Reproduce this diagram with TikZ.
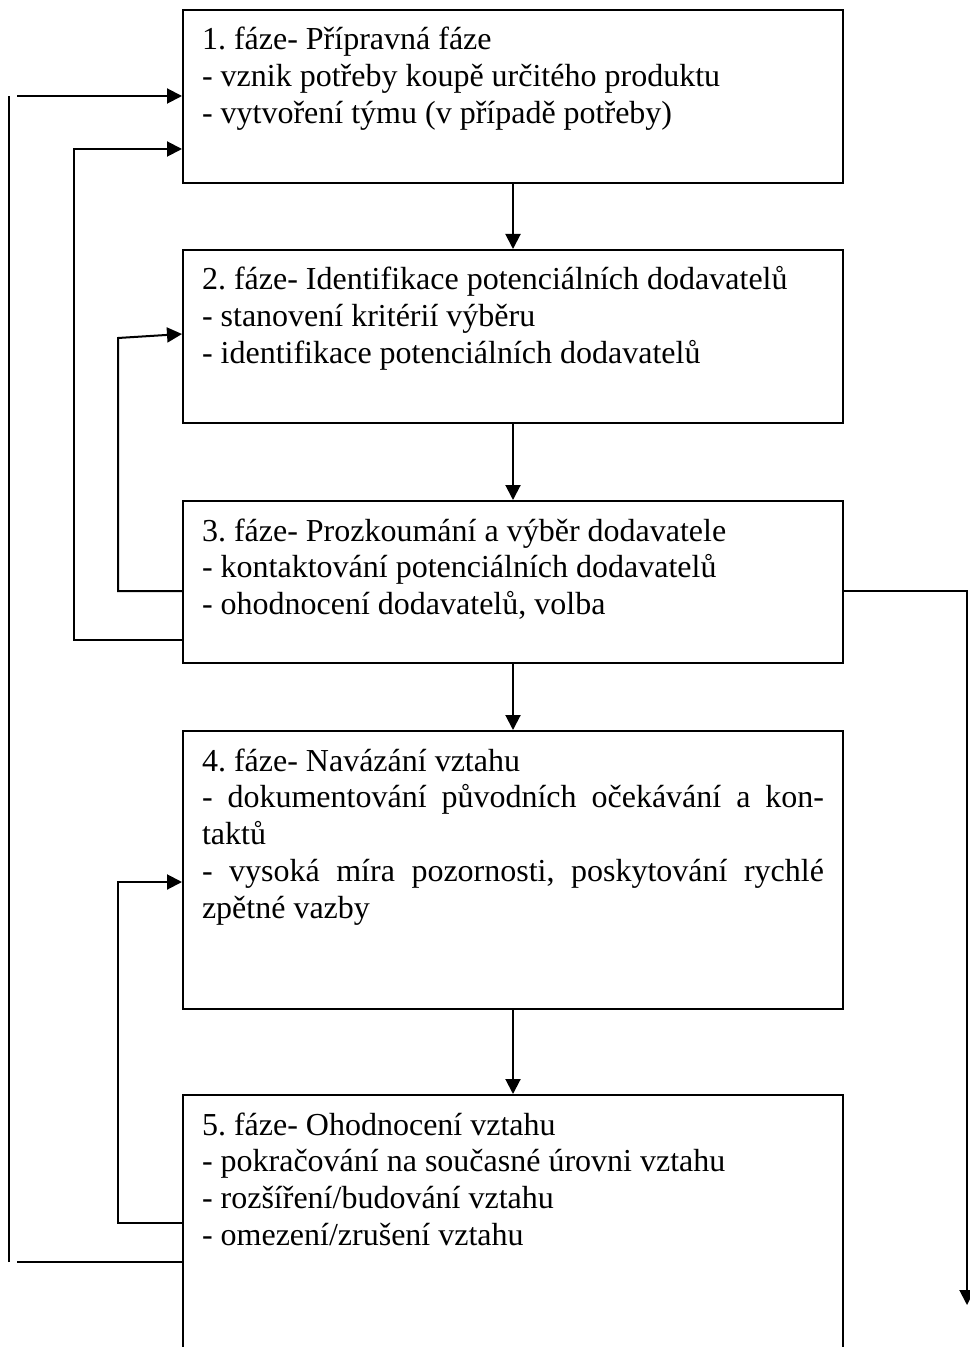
\documentclass[tikz,border=0pt]{standalone}
\usepackage{fontspec}
\setmainfont{Liberation Serif}
\usetikzlibrary{arrows.meta}

\tikzset{
  phase/.style={draw, line width=1pt, anchor=north west, inner xsep=9.5pt, inner ysep=0pt},
  link/.style={line width=1pt},
  flow/.style={line width=1pt, -{Triangle[length=7.5pt,width=7.5pt]}}
}
\newcommand{\phasetext}[2]{\parbox[t][#1][t]{311pt}{\fontsize{16pt}{18.4pt}\selectfont
  \frenchspacing\hyphenpenalty=10000 \rule{0pt}{20pt}#2}}

\begin{document}
\begin{tikzpicture}[x=0.5pt,y=-0.5pt]
  \useasboundingbox (0,0) rectangle (969,1347);
  % the five phases
  \node[phase] (f1) at (182,9) {\phasetext{86.5pt}{1. fáze- Přípravná fáze\\
    - vznik potřeby koupě určitého produktu\\
    - vytvoření týmu (v případě potřeby)}};
  \node[phase] (f2) at (182,249) {\phasetext{86.5pt}{2. fáze- Identifikace potenciálních dodavatelů\\
    - stanovení kritérií výběru\\
    - identifikace potenciálních dodavatelů}};
  \node[phase] (f3) at (182,500) {\phasetext{81pt}{3. fáze- Prozkoumání a výběr dodavatele\\
    - kontaktování potenciálních dodavatelů\\
    - ohodnocení dodavatelů, volba}};
  \node[phase] (f4) at (182,730) {\phasetext{139pt}{4. fáze- Navázání vztahu\\
    - dokumentování původních očekávání a kon-\linebreak taktů\\
    - vysoká míra pozornosti, poskytování rychlé\linebreak zpětné vazby}};
  \node[phase] (f5) at (182,1094) {\phasetext{140pt}{5. fáze- Ohodnocení vztahu\\
    - pokračování na současné úrovni vztahu\\
    - rozšíření/budování vztahu\\
    - omezení/zrušení vztahu}};
  \coordinate (out) at (967,1305);
  \foreach \a/\b in {f1/f2,f2/f3,f3/f4,f4/f5}
    \draw[flow] (\a.south) -- (\b.north);
  % feedback lines on the left
  \draw[link] (f5.west |- 0,1262) -- (17,1262);
  \draw[link] (9,1262) -- (9,96);
  \draw[flow] (17,96) -- (f1.west |- 0,96);
  \draw[flow] (f3.west |- 0,640) -| (74,149) -- (f1.west |- 0,149);
  \draw[flow] (f3.west |- 0,591) -| (118,338) -- (f2.west |- 0,334);
  \draw[flow] (f5.west |- 0,1223) -| (118,882) -- (f4.west |- 0,882);
  % exit on the right
  \draw[flow] (f3.east |- 0,591) -| (out);
\end{tikzpicture}
\end{document}
